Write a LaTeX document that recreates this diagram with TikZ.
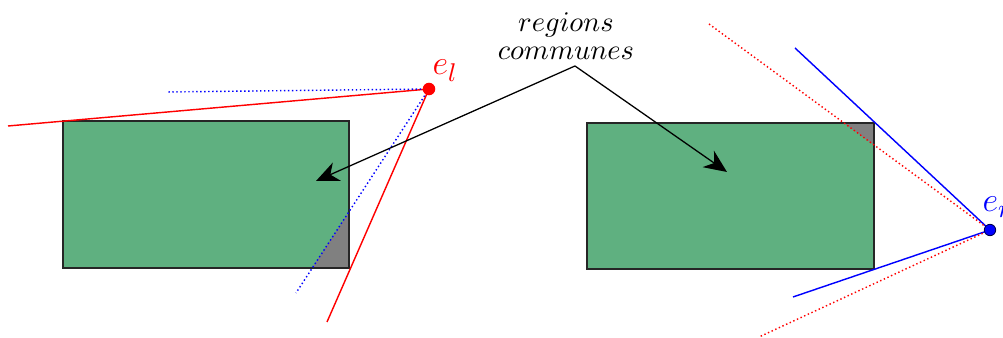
\documentclass[tikz,border=0pt]{standalone}
\usetikzlibrary{arrows.meta}
\definecolor{regiongreen}{RGB}{95,176,128}
\begin{document}
\begin{tikzpicture}[x=0.351pt,y=-0.351pt,
  imgbox/.style={draw=black!85,line width=0.4pt},
  overlap/.style={fill=gray},
  solidline/.style={line width=0.5pt},
  dotline/.style={line width=0.5pt,dash pattern=on 0.5pt off 0.9pt},
  epilabel/.style={anchor=base west,inner sep=0pt,font=\fontsize{13}{15}\selectfont},
  pointer/.style={line width=0.45pt,-{Stealth[length=8pt,width=7pt,inset=2.5pt]}}]
\useasboundingbox (0,0) rectangle (1003,338);
% left image
\fill[regiongreen] (63,121) rectangle (349,268);
\fill[overlap] (349,212) -- (349,268) -- (312,268) -- cycle;
\draw[imgbox] (63,121) rectangle (349,268);
% right image
\fill[regiongreen] (587,123) rectangle (874,269);
\fill[overlap] (844,123) -- (874,123) -- (874,145) -- cycle;
\draw[imgbox] (587,123) rectangle (874,269);
% epipoles
\coordinate (el) at (429,89);
\coordinate (er) at (990,230);
\coordinate (l1) at (8,126);
\coordinate (l2) at (327,322);
\coordinate (l3) at (167,92);
\coordinate (l4) at (296,293);
\coordinate (r1) at (795,48);
\coordinate (r2) at (793,297);
\coordinate (r3) at (709,24);
\coordinate (r4) at (759,337);
\draw[red,solidline] (el) -- (l1);
\draw[red,solidline] (el) -- (l2);
\draw[blue,dotline] (el) -- (l3);
\draw[blue,dotline] (el) -- (l4);
\draw[blue,solidline] (er) -- (r1);
\draw[blue,solidline] (er) -- (r2);
\draw[red,dotline] (er) -- (r3);
\draw[red,dotline] (er) -- (r4);
\fill[red] (el) circle (2.2pt);
\filldraw[fill=blue,draw=black!70!blue,line width=0.3pt] (er) circle (2pt);
\node[red,epilabel] (ell) at (432,75) {$e_l$};
\node[blue,epilabel] (erl) at (982,212) {$e_r$};
% label and arrows
\node[align=center,inner sep=0pt,font=\fontsize{10}{10}\selectfont] (txt) at (566,36) {$regions$\\$communes$};
\coordinate (apex) at (575,66);
\coordinate (tl) at (316,181);
\coordinate (tr) at (727,172);
\draw[pointer] (apex) -- (tl);
\draw[pointer] (apex) -- (tr);
\end{tikzpicture}
\end{document}
